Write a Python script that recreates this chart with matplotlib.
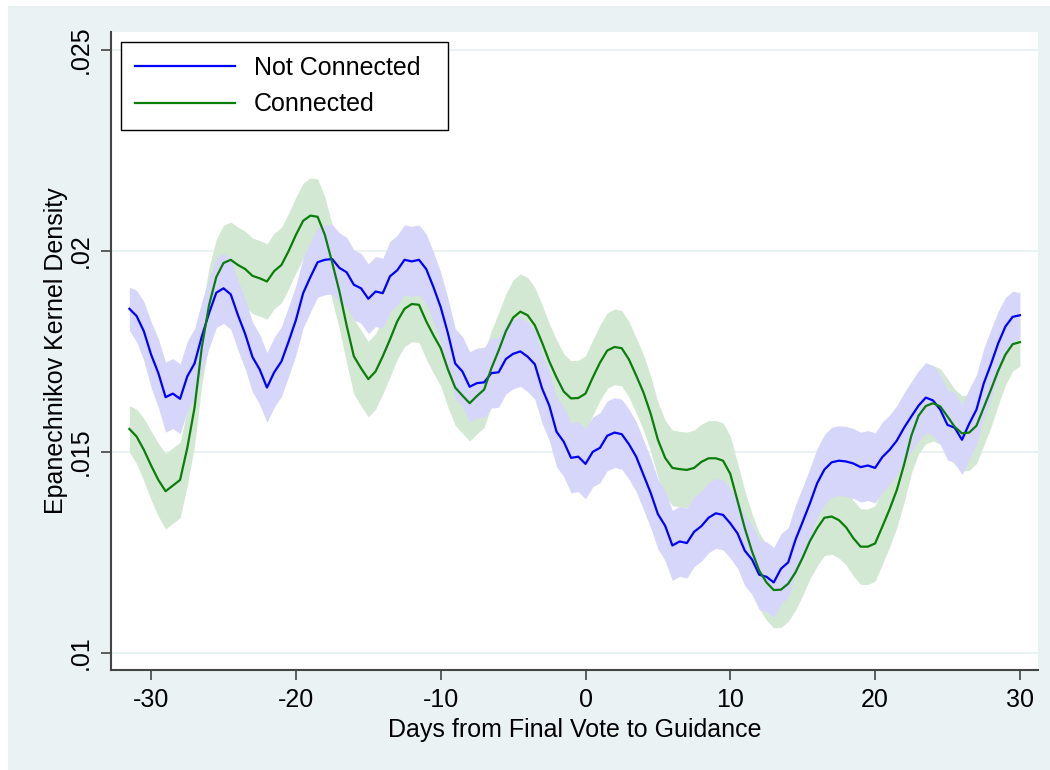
"""Kernel density of days from final vote to guidance, connected vs not connected."""

import matplotlib

matplotlib.use("Agg")
import matplotlib.pyplot as plt
import numpy as np
from matplotlib.patches import Rectangle

plt.rcParams["font.family"] = ["Liberation Sans", "DejaVu Sans"]

# Evaluation grid (days), every half day from -31.5 to 30
DAYS = np.arange(-31.5, 30.01, 0.5)

# Density at each grid point
NOT_CONNECTED = [
    .01856, .01838, .01800, .01742, .01696, .01636, .01645, .01632, .01688, .01720,
    .01787, .01845, .01896, .01907, .01892, .01840, .01793, .01736, .01705, .01660,
    .01698, .01725, .01775, .01828, .01895, .01935, .01972, .01978, .01980, .01958,
    .01947, .01916, .01907, .01881, .01899, .01895, .01937, .01952, .01978, .01974,
    .01978, .01955, .01910, .01860, .01795, .01720, .01700, .01662, .01671, .01673,
    .01696, .01698, .01731, .01744, .01750, .01737, .01718, .01658, .01615, .01550,
    .01525, .01485, .01488, .01470, .01500, .01510, .01540, .01548, .01544, .01519,
    .01488, .01443, .01398, .01345, .01316, .01267, .01277, .01273, .01301, .01315,
    .01336, .01347, .01343, .01322, .01297, .01254, .01232, .01194, .01189, .01175,
    .01209, .01225, .01281, .01326, .01372, .01422, .01456, .01474, .01478, .01476,
    .01471, .01462, .01466, .01460, .01487, .01505, .01528, .01560, .01588, .01615,
    .01635, .01628, .01605, .01567, .01560, .01530, .01570, .01605, .01670, .01718,
    .01770, .01812, .01836, .01840,
]
CONNECTED = [
    .01557, .01538, .01505, .01466, .01430, .01402, .01416, .01430, .01510, .01610,
    .01760, .01865, .01935, .01970, .01978, .01965, .01955, .01938, .01932, .01924,
    .01950, .01965, .02000, .02040, .02075, .02088, .02085, .02040, .01972, .01900,
    .01815, .01738, .01708, .01681, .01700, .01738, .01780, .01825, .01856, .01868,
    .01866, .01825, .01790, .01758, .01705, .01660, .01640, .01621, .01639, .01655,
    .01708, .01752, .01800, .01834, .01849, .01840, .01815, .01772, .01725, .01685,
    .01650, .01633, .01634, .01645, .01685, .01722, .01752, .01761, .01758, .01730,
    .01690, .01648, .01595, .01530, .01485, .01460, .01457, .01455, .01460, .01475,
    .01484, .01484, .01478, .01445, .01378, .01310, .01252, .01204, .01175, .01156,
    .01157, .01172, .01200, .01237, .01278, .01310, .01336, .01339, .01330, .01312,
    .01285, .01264, .01264, .01272, .01314, .01357, .01405, .01468, .01540, .01590,
    .01614, .01621, .01613, .01588, .01562, .01546, .01548, .01565, .01610, .01655,
    .01702, .01742, .01768, .01773,
]

# Half-width of the confidence bands (narrower near the boundaries)
NOT_CONNECTED_HW = [0.00054, 0.00064, 0.00074, 0.00082, 0.00086] + [0.00087] * 115 + [
    0.00080, 0.00072, 0.00064, 0.00056]
CONNECTED_HW = [0.00058, 0.00068, 0.00078, 0.00086, 0.00091] + [0.00094] * 115 + [
    0.00086, 0.00076, 0.00067, 0.00059]

Y_TICKS = [0.01, 0.015, 0.02, 0.025]
Y_TICK_LABELS = [".01", ".015", ".02", ".025"]
X_TICKS = [-30, -20, -10, 0, 10, 20, 30]
X_TICK_LABELS = ["-30", "-20", "-10", "0", "10", "20", "30"]

BG = "#eaf2f3"


def main() -> None:
    nc = np.array(NOT_CONNECTED)
    c = np.array(CONNECTED)
    nc_hw = np.array(NOT_CONNECTED_HW)
    c_hw = np.array(CONNECTED_HW)
    assert len(nc) == len(c) == len(DAYS) == len(nc_hw) == len(c_hw)

    fig = plt.figure(figsize=(10.5, 7.7), dpi=100, facecolor="white")
    fig.patches.append(Rectangle((8 / 1050, 0), 1, 1 - 6 / 770, transform=fig.transFigure,
                                 facecolor=BG, edgecolor="none", zorder=-10))
    ax = fig.add_axes([111 / 1050, 1 - 670 / 770, (1038 - 111) / 1050, (670 - 32) / 770])
    ax.set_facecolor("white")

    ax.fill_between(DAYS, c - c_hw, c + c_hw, color="#d3e8d3", lw=0, zorder=1)
    ax.fill_between(DAYS, nc - nc_hw, nc + nc_hw, color="#d6d6fb", lw=0, zorder=2)
    ax.plot(DAYS, nc, color="#0000ff", lw=1.6, label="Not Connected", zorder=4)
    ax.plot(DAYS, c, color="#0b7d0b", lw=1.6, label="Connected", zorder=4)

    ax.set_xlim(-32.77, 31.25)
    ax.set_ylim(0.00957, 0.02545)
    ax.set_xticks(X_TICKS)
    ax.set_xticklabels(X_TICK_LABELS)
    ax.set_yticks(Y_TICKS)
    ax.set_yticklabels(Y_TICK_LABELS, rotation=90, va="center")
    ax.tick_params(axis="both", labelsize=18, length=7, width=1.2, color="#444444", pad=6)
    ax.grid(axis="y", color=BG, lw=1.5, zorder=0)
    ax.set_axisbelow(True)

    for side in ("top", "right"):
        ax.spines[side].set_visible(False)
    for side in ("left", "bottom"):
        ax.spines[side].set_color("#444444")
        ax.spines[side].set_linewidth(1.5)

    ax.set_xlabel("Days from Final Vote to Guidance", fontsize=18, labelpad=4)
    ax.set_ylabel("Epanechnikov Kernel Density", fontsize=18, labelpad=1)

    leg = ax.legend(loc="upper left",
                    bbox_to_anchor=(121 / 1050, 1 - 128 / 770, 327 / 1050, 86 / 770),
                    bbox_transform=fig.transFigure, mode="expand", borderaxespad=0,
                    fontsize=18, handlelength=4.0, handletextpad=0.75, labelspacing=0.5,
                    borderpad=0.55, fancybox=False, framealpha=1)
    leg.get_frame().set_edgecolor("black")
    leg.get_frame().set_linewidth(1.0)
    leg.set_zorder(10)

    fig.savefig("out.png", dpi=100, facecolor=fig.get_facecolor())


if __name__ == "__main__":
    main()
